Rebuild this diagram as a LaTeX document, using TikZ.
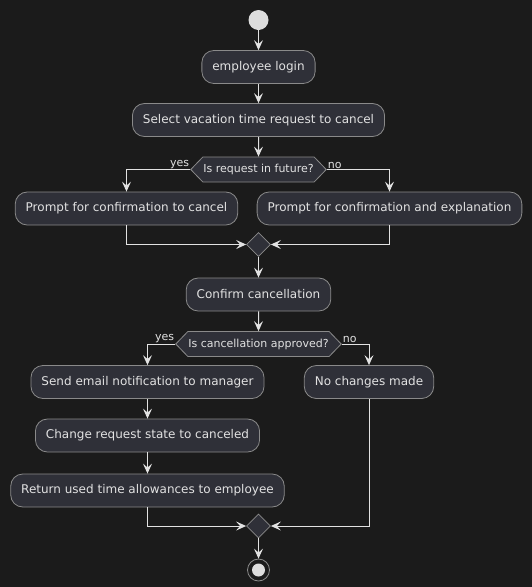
\documentclass[tikz,border=0pt]{standalone}
\usepackage{fontspec}
\setmainfont{DejaVu Sans}
\usetikzlibrary{arrows.meta, shapes.geometric, shapes.symbols}

\definecolor{bgcol}{HTML}{1B1B1B}
\definecolor{boxcol}{HTML}{2F3038}
\definecolor{edgecol}{HTML}{8A8A8A}
\definecolor{linecol}{HTML}{E2E2E2}
\definecolor{dotcol}{HTML}{DDDDDD}

\tikzset{
  activity/.style={rectangle, rounded corners=12pt, draw=edgecol, fill=boxcol, line width=0.8pt,
    text=linecol, minimum height=33pt, inner xsep=10.5pt, font=\fontsize{12}{14}\selectfont},
  question/.style={signal, signal to=east and west, signal pointer angle=92, draw=edgecol, fill=boxcol,
    line width=0.8pt, text=linecol, minimum height=25pt, inner xsep=0.5pt, inner ysep=0pt,
    font=\fontsize{11}{13}\selectfont},
  merge/.style={diamond, draw=edgecol, fill=boxcol, line width=0.8pt, minimum size=24pt, inner sep=0pt},
  guard/.style={text=linecol, inner sep=1pt, font=\fontsize{11}{13}\selectfont},
  flow/.style={draw=linecol, line width=1pt, -{Stealth[length=10pt, width=9pt, inset=4pt]}}
}

\begin{document}
\begin{tikzpicture}[x=1pt, y=-1pt]
\fill[bgcol] (0,0) rectangle (532,587);
\useasboundingbox (0,0) rectangle (532,587);

\node[circle, fill=dotcol, minimum size=20pt, inner sep=0pt] (start) at (258.5,20) {};
\node[activity] (login)    at (258.5,67)  {employee login};
\node[activity] (select)   at (258.5,120) {Select vacation time request to cancel};
\node[question] (future)   at (258.5,169.5) {Is request in future?};
\node[activity] (confirmc) at (126.5,208.5) {Prompt for confirmation to cancel};
\node[activity] (confirme) at (389.5,208.5) {Prompt for confirmation and explanation};
\node[merge]    (mergea)   at (258.5,244.5) {};
\node[activity] (confirm)  at (258.5,294.5) {Confirm cancellation};
\node[question] (approved) at (258.5,344) {Is cancellation approved?};
\node[activity] (email)    at (147.5,382) {Send email notification to manager};
\node[activity] (nochange) at (369,382)   {No changes made};
\node[activity] (state)    at (147.5,435.5) {Change request state to canceled};
\node[activity] (allow)    at (147.5,490.5) {Return used time allowances to employee};
\node[merge]    (mergeb)   at (258.5,526) {};
\node[circle, draw=edgecol, line width=0.8pt, minimum size=22pt, inner sep=0pt] (stop) at (258.5,570) {};
\fill[dotcol] (stop) circle (6.5pt);

\node[guard, anchor=south east] (yesa) at (future.west)   {yes};
\node[guard, anchor=south west] (noa)  at (future.east)   {no};
\node[guard, anchor=south east] (yesb) at (approved.west) {yes};
\node[guard, anchor=south west] (nob)  at (approved.east) {no};

\draw[flow] (start) -- (login);
\draw[flow] (login) -- (select);
\draw[flow] (select) -- (future);
\draw[flow] (future.west) -| (confirmc);
\draw[flow] (future.east) -| (confirme);
\draw[flow] (confirmc) |- (mergea);
\draw[flow] (confirme) |- (mergea);
\draw[flow] (mergea) -- (confirm);
\draw[flow] (confirm) -- (approved);
\draw[flow] (approved.west) -| (email);
\draw[flow] (approved.east) -| (nochange);
\draw[flow] (email) -- (state);
\draw[flow] (state) -- (allow);
\draw[flow] (allow) |- (mergeb);
\draw[flow] (nochange) |- (mergeb);
\draw[flow] (mergeb) -- (stop);
\end{tikzpicture}
\end{document}
